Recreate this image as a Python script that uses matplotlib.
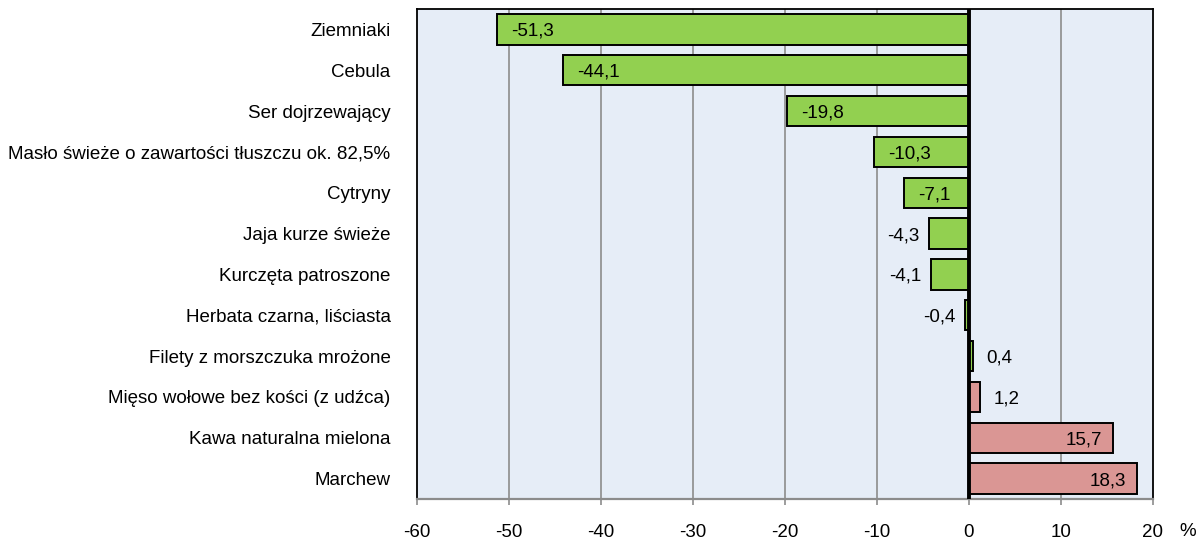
import matplotlib
matplotlib.use("Agg")
import matplotlib.pyplot as plt
from matplotlib.transforms import offset_copy

# --- Data ---
categories = [
    "Ziemniaki",
    "Cebula",
    "Ser dojrzewający",
    "Masło świeże o zawartości tłuszczu ok. 82,5%",
    "Cytryny",
    "Jaja kurze świeże",
    "Kurczęta patroszone",
    "Herbata czarna, liściasta",
    "Filety z morszczuka mrożone",
    "Mięso wołowe bez kości (z udźca)",
    "Kawa naturalna mielona",
    "Marchew",
]
changes = [-51.3, -44.1, -19.8, -10.3, -7.1, -4.3, -4.1, -0.4, 0.4, 1.2, 15.7, 18.3]
x_ticks = [-60, -50, -40, -30, -20, -10, 0, 10, 20]

GREEN = "#92D050"
PINK = "#DA9694"
BG = "#E6EDF7"
GRID = "#8C8C8C"

plt.rcParams["font.family"] = ["Liberation Sans", "DejaVu Sans"]
FS = 13.5

fig = plt.figure(figsize=(11.99, 5.39), dpi=100)
ax = fig.add_axes([0.3478, 0.0742, 0.6138, 0.9091])
ax.set_facecolor(BG)

ypos = list(range(len(categories)))
# colours: pink for increases, green for decreases (0,4 is green in the source)
colors = [PINK if v >= 1 else GREEN for v in changes]
ax.barh(ypos, changes, height=0.74, color=colors, edgecolor="black",
        linewidth=1.4, zorder=3)

ax.set_xlim(-60, 20)
ax.set_ylim(len(categories) - 0.5, -0.5)

# vertical grid lines and thick zero line
for t in x_ticks[1:-1]:
    if t != 0:
        ax.axvline(t, color=GRID, linewidth=1.2, zorder=1)
ax.axvline(0, color="black", linewidth=2.8, zorder=4)

# value labels
for y, v in zip(ypos, changes):
    txt = f"{v:.1f}".replace(".", ",")
    if abs(v) < 5:
        # small bars: label outside the bar end
        if v < 0:
            dx, ha = -10, "right"
        else:
            dx, ha = 14, "left"
    elif v < 0:
        dx, ha = 14, "left"
    else:
        dx, ha = -11, "right"
    tr = offset_copy(ax.transData, fig=fig, x=dx, y=0, units="dots")
    ax.text(v, y, txt, transform=tr, ha=ha, va="center_baseline",
            fontsize=FS, zorder=5)

# axes styling
ax.set_yticks(ypos)
ax.set_yticklabels(categories, fontsize=FS)
ax.tick_params(axis="y", length=0, pad=19)
ax.set_xticks(x_ticks)
ax.set_xticklabels([str(t) for t in x_ticks], fontsize=FS)
ax.tick_params(axis="x", length=4, width=1.2, color=GRID, pad=14)

for side in ["left", "top", "right"]:
    ax.spines[side].set_color("black")
    ax.spines[side].set_linewidth(1.3)
ax.spines["bottom"].set_color(GRID)
ax.spines["bottom"].set_linewidth(1.6)

# unit label next to the last tick
ax.annotate("%", xy=(20, 0), xycoords=("data", "axes fraction"),
            xytext=(35, -24), textcoords="offset pixels",
            ha="center", va="top", fontsize=FS)

fig.savefig("out.png", dpi=100, facecolor="white")
